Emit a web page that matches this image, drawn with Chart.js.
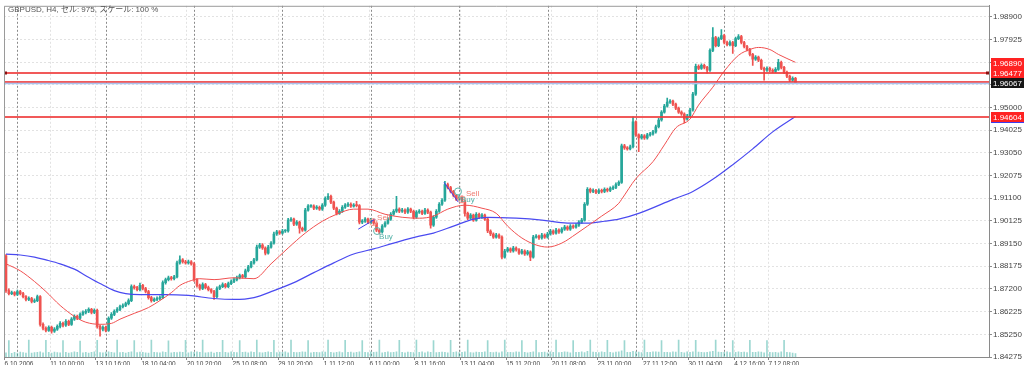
<!DOCTYPE html>
<html>
<head>
<meta charset="utf-8">
<script src="https://cdn.jsdelivr.net/npm/chart.js@4.4.1/dist/chart.umd.min.js"></script>
<style>
html, body { margin: 0; padding: 0; background: #fff; }
canvas { display: block; }
</style>
</head>
<body>
<canvas id="chart" width="1024" height="365"></canvas>
<script>
// GBPUSD H4, bar 0 = 6.10.2006 12:00
opens = [
1.8862, 1.8713, 1.8700, 1.8704, 1.8696, 1.8709, 1.8700, 1.8687, 1.8675, 1.8679,
1.8666, 1.8670, 1.8687, 1.8568, 1.8551, 1.8542, 1.8555, 1.8538, 1.8547, 1.8559,
1.8572, 1.8564, 1.8581, 1.8568, 1.8590, 1.8602, 1.8594, 1.8611, 1.8619, 1.8624,
1.8632, 1.8619, 1.8628, 1.8559, 1.8547, 1.8555, 1.8542, 1.8594, 1.8611, 1.8624,
1.8632, 1.8644, 1.8649, 1.8657, 1.8670, 1.8730, 1.8726, 1.8717, 1.8735, 1.8722,
1.8709, 1.8683, 1.8670, 1.8675, 1.8679, 1.8683, 1.8747, 1.8760, 1.8768, 1.8764,
1.8772, 1.8832, 1.8845, 1.8837, 1.8832, 1.8837, 1.8828, 1.8760, 1.8735, 1.8722,
1.8739, 1.8726, 1.8717, 1.8709, 1.8687, 1.8722, 1.8730, 1.8739, 1.8730, 1.8743,
1.8752, 1.8760, 1.8768, 1.8777, 1.8772, 1.8798, 1.8815, 1.8832, 1.8845, 1.8900,
1.8909, 1.8896, 1.8874, 1.8900, 1.8917, 1.8956, 1.8965, 1.8960, 1.8969, 1.8969,
1.9016, 1.9020, 1.8998, 1.9007, 1.8981, 1.8973, 1.9059, 1.9076, 1.9076, 1.9067,
1.9071, 1.9063, 1.9080, 1.9109, 1.9118, 1.9093, 1.9067, 1.9045, 1.9054, 1.9071,
1.9080, 1.9084, 1.9076, 1.9080, 1.9078, 1.9007, 1.9011, 1.9020, 1.9007, 1.9016,
1.9003, 1.8973, 1.8965, 1.8990, 1.9003, 1.9020, 1.9041, 1.9054, 1.9063, 1.9054,
1.9059, 1.9050, 1.9063, 1.9054, 1.9028, 1.9050, 1.9054, 1.9045, 1.9059, 1.9050,
1.8994, 1.9028, 1.9054, 1.9084, 1.9101, 1.9169, 1.9156, 1.9139, 1.9122, 1.9105,
1.9114, 1.9097, 1.9045, 1.9024, 1.9037, 1.9016, 1.9041, 1.9028, 1.9037, 1.9020,
1.8969, 1.8956, 1.8943, 1.8952, 1.8943, 1.8857, 1.8883, 1.8892, 1.8883, 1.8896,
1.8888, 1.8874, 1.8883, 1.8870, 1.8879, 1.8857, 1.8943, 1.8947, 1.8939, 1.8952,
1.8943, 1.8956, 1.8969, 1.8960, 1.8973, 1.8965, 1.8977, 1.8986, 1.8977, 1.8990,
1.8986, 1.8994, 1.9007, 1.9016, 1.9084, 1.9148, 1.9139, 1.9143, 1.9135, 1.9143,
1.9139, 1.9148, 1.9143, 1.9152, 1.9156, 1.9169, 1.9178, 1.9335, 1.9326, 1.9322,
1.9331, 1.9438, 1.9382, 1.9369, 1.9378, 1.9369, 1.9382, 1.9386, 1.9395, 1.9417,
1.9446, 1.9480, 1.9506, 1.9523, 1.9527, 1.9514, 1.9497, 1.9480, 1.9472, 1.9450,
1.9463, 1.9489, 1.9557, 1.9677, 1.9668, 1.9681, 1.9672, 1.9660, 1.9745, 1.9800,
1.9766, 1.9796, 1.9809, 1.9779, 1.9770, 1.9779, 1.9766, 1.9796, 1.9805, 1.9779,
1.9762, 1.9749, 1.9728, 1.9707, 1.9716, 1.9703, 1.9668, 1.9660, 1.9668, 1.9660,
1.9655, 1.9664, 1.9694, 1.9672, 1.9651, 1.9634, 1.9617, 1.9625
];

highs = [
1.8868, 1.8720, 1.8711, 1.8709, 1.8715, 1.8714, 1.8705, 1.8692, 1.8686, 1.8684,
1.8677, 1.8694, 1.8692, 1.8574, 1.8557, 1.8562, 1.8560, 1.8554, 1.8566, 1.8580,
1.8578, 1.8588, 1.8586, 1.8597, 1.8609, 1.8608, 1.8617, 1.8626, 1.8631, 1.8639,
1.8637, 1.8635, 1.8633, 1.8564, 1.8562, 1.8560, 1.8600, 1.8618, 1.8630, 1.8640,
1.8651, 1.8656, 1.8664, 1.8677, 1.8738, 1.8737, 1.8731, 1.8745, 1.8740, 1.8727,
1.8714, 1.8688, 1.8682, 1.8686, 1.8690, 1.8755, 1.8767, 1.8775, 1.8774, 1.8779,
1.8840, 1.8862, 1.8851, 1.8843, 1.8844, 1.8842, 1.8833, 1.8765, 1.8741, 1.8746,
1.8744, 1.8732, 1.8722, 1.8714, 1.8729, 1.8737, 1.8746, 1.8744, 1.8750, 1.8759,
1.8767, 1.8775, 1.8784, 1.8783, 1.8805, 1.8822, 1.8839, 1.8852, 1.8908, 1.8916,
1.8915, 1.8901, 1.8907, 1.8924, 1.8964, 1.8972, 1.8971, 1.8976, 1.8975, 1.9024,
1.9027, 1.9025, 1.9014, 1.9012, 1.8986, 1.9066, 1.9083, 1.9082, 1.9081, 1.9078,
1.9076, 1.9087, 1.9116, 1.9130, 1.9123, 1.9098, 1.9072, 1.9061, 1.9078, 1.9087,
1.9091, 1.9090, 1.9087, 1.9097, 1.9083, 1.9018, 1.9027, 1.9025, 1.9023, 1.9021,
1.9008, 1.8978, 1.8997, 1.9010, 1.9027, 1.9048, 1.9061, 1.9118, 1.9069, 1.9066,
1.9064, 1.9070, 1.9068, 1.9059, 1.9057, 1.9061, 1.9059, 1.9066, 1.9064, 1.9055,
1.9035, 1.9061, 1.9091, 1.9108, 1.9182, 1.9175, 1.9161, 1.9144, 1.9127, 1.9121,
1.9119, 1.9102, 1.9050, 1.9044, 1.9042, 1.9048, 1.9046, 1.9044, 1.9042, 1.9025,
1.8974, 1.8961, 1.8959, 1.8957, 1.8948, 1.8890, 1.8899, 1.8897, 1.8903, 1.8901,
1.8893, 1.8890, 1.8888, 1.8886, 1.8884, 1.8950, 1.8954, 1.8952, 1.8959, 1.8957,
1.8963, 1.8976, 1.8974, 1.8980, 1.8978, 1.8984, 1.8993, 1.8991, 1.8997, 1.8996,
1.9001, 1.9014, 1.9023, 1.9091, 1.9156, 1.9154, 1.9150, 1.9148, 1.9150, 1.9149,
1.9155, 1.9153, 1.9159, 1.9163, 1.9176, 1.9185, 1.9343, 1.9341, 1.9332, 1.9338,
1.9460, 1.9443, 1.9387, 1.9385, 1.9383, 1.9389, 1.9393, 1.9402, 1.9424, 1.9453,
1.9487, 1.9513, 1.9540, 1.9534, 1.9532, 1.9519, 1.9502, 1.9485, 1.9477, 1.9470,
1.9496, 1.9565, 1.9686, 1.9683, 1.9688, 1.9686, 1.9677, 1.9752, 1.9843, 1.9806,
1.9803, 1.9835, 1.9814, 1.9785, 1.9786, 1.9784, 1.9803, 1.9813, 1.9810, 1.9784,
1.9767, 1.9754, 1.9733, 1.9723, 1.9721, 1.9708, 1.9673, 1.9675, 1.9673, 1.9666,
1.9671, 1.9707, 1.9699, 1.9677, 1.9656, 1.9639, 1.9632, 1.9630
];

lows = [
1.8705, 1.8694, 1.8695, 1.8690, 1.8691, 1.8694, 1.8681, 1.8669, 1.8670, 1.8660,
1.8661, 1.8665, 1.8560, 1.8544, 1.8535, 1.8537, 1.8530, 1.8533, 1.8542, 1.8553,
1.8557, 1.8559, 1.8562, 1.8563, 1.8585, 1.8588, 1.8589, 1.8606, 1.8613, 1.8618,
1.8613, 1.8614, 1.8551, 1.8517, 1.8540, 1.8535, 1.8537, 1.8589, 1.8605, 1.8619,
1.8627, 1.8638, 1.8644, 1.8651, 1.8665, 1.8719, 1.8711, 1.8712, 1.8716, 1.8703,
1.8676, 1.8663, 1.8665, 1.8670, 1.8673, 1.8678, 1.8741, 1.8755, 1.8758, 1.8759,
1.8767, 1.8826, 1.8831, 1.8826, 1.8827, 1.8822, 1.8752, 1.8728, 1.8715, 1.8717,
1.8720, 1.8711, 1.8702, 1.8675, 1.8683, 1.8717, 1.8725, 1.8724, 1.8725, 1.8738,
1.8747, 1.8755, 1.8763, 1.8766, 1.8767, 1.8793, 1.8810, 1.8827, 1.8840, 1.8894,
1.8890, 1.8866, 1.8869, 1.8895, 1.8912, 1.8950, 1.8954, 1.8955, 1.8963, 1.8964,
1.9010, 1.8992, 1.8993, 1.8960, 1.8967, 1.8968, 1.9054, 1.9070, 1.9061, 1.9062,
1.9057, 1.9058, 1.9075, 1.9104, 1.9087, 1.9061, 1.9038, 1.9040, 1.9049, 1.9066,
1.9074, 1.9070, 1.9071, 1.9072, 1.8999, 1.9001, 1.9006, 1.9001, 1.9002, 1.8997,
1.8966, 1.8956, 1.8960, 1.8985, 1.8998, 1.9015, 1.9036, 1.9049, 1.9048, 1.9049,
1.9044, 1.9045, 1.9048, 1.9021, 1.9023, 1.9045, 1.9039, 1.9040, 1.9044, 1.8981,
1.8989, 1.9023, 1.9049, 1.9079, 1.9096, 1.9150, 1.9133, 1.9116, 1.9099, 1.9100,
1.9091, 1.9033, 1.9018, 1.9019, 1.9010, 1.9011, 1.9022, 1.9023, 1.9014, 1.8962,
1.8949, 1.8937, 1.8938, 1.8937, 1.8849, 1.8852, 1.8878, 1.8877, 1.8878, 1.8882,
1.8868, 1.8869, 1.8864, 1.8865, 1.8841, 1.8852, 1.8938, 1.8933, 1.8934, 1.8937,
1.8938, 1.8951, 1.8954, 1.8955, 1.8959, 1.8960, 1.8972, 1.8971, 1.8972, 1.8980,
1.8981, 1.8989, 1.9002, 1.9011, 1.9079, 1.9133, 1.9134, 1.9129, 1.9130, 1.9133,
1.9134, 1.9137, 1.9138, 1.9147, 1.9151, 1.9164, 1.9173, 1.9320, 1.9316, 1.9317,
1.9326, 1.9375, 1.9310, 1.9364, 1.9363, 1.9364, 1.9377, 1.9381, 1.9390, 1.9412,
1.9441, 1.9475, 1.9501, 1.9517, 1.9508, 1.9491, 1.9474, 1.9466, 1.9434, 1.9445,
1.9458, 1.9484, 1.9552, 1.9662, 1.9663, 1.9666, 1.9647, 1.9655, 1.9740, 1.9760,
1.9761, 1.9791, 1.9773, 1.9764, 1.9765, 1.9732, 1.9761, 1.9791, 1.9773, 1.9756,
1.9743, 1.9722, 1.9681, 1.9702, 1.9697, 1.9662, 1.9617, 1.9655, 1.9654, 1.9649,
1.9650, 1.9659, 1.9666, 1.9645, 1.9628, 1.9611, 1.9612, 1.9603
];

closes = [
1.8713, 1.8700, 1.8704, 1.8696, 1.8709, 1.8700, 1.8687, 1.8675, 1.8679, 1.8666,
1.8670, 1.8687, 1.8568, 1.8551, 1.8542, 1.8555, 1.8538, 1.8547, 1.8559, 1.8572,
1.8564, 1.8581, 1.8568, 1.8590, 1.8602, 1.8594, 1.8611, 1.8619, 1.8624, 1.8632,
1.8619, 1.8628, 1.8559, 1.8547, 1.8555, 1.8542, 1.8594, 1.8611, 1.8624, 1.8632,
1.8644, 1.8649, 1.8657, 1.8670, 1.8730, 1.8726, 1.8717, 1.8735, 1.8722, 1.8709,
1.8683, 1.8670, 1.8675, 1.8679, 1.8683, 1.8747, 1.8760, 1.8768, 1.8764, 1.8772,
1.8832, 1.8845, 1.8837, 1.8832, 1.8837, 1.8828, 1.8760, 1.8735, 1.8722, 1.8739,
1.8726, 1.8717, 1.8709, 1.8687, 1.8722, 1.8730, 1.8739, 1.8730, 1.8743, 1.8752,
1.8760, 1.8768, 1.8777, 1.8772, 1.8798, 1.8815, 1.8832, 1.8845, 1.8900, 1.8909,
1.8896, 1.8874, 1.8900, 1.8917, 1.8956, 1.8965, 1.8960, 1.8969, 1.8969, 1.9016,
1.9020, 1.8998, 1.9007, 1.8981, 1.8973, 1.9059, 1.9076, 1.9076, 1.9067, 1.9071,
1.9063, 1.9080, 1.9109, 1.9118, 1.9093, 1.9067, 1.9045, 1.9054, 1.9071, 1.9080,
1.9084, 1.9076, 1.9080, 1.9078, 1.9007, 1.9011, 1.9020, 1.9007, 1.9016, 1.9003,
1.8973, 1.8965, 1.8990, 1.9003, 1.9020, 1.9041, 1.9054, 1.9063, 1.9054, 1.9059,
1.9050, 1.9063, 1.9054, 1.9028, 1.9050, 1.9054, 1.9045, 1.9059, 1.9050, 1.8994,
1.9028, 1.9054, 1.9084, 1.9101, 1.9169, 1.9156, 1.9139, 1.9122, 1.9105, 1.9114,
1.9097, 1.9045, 1.9024, 1.9037, 1.9016, 1.9041, 1.9028, 1.9037, 1.9020, 1.8969,
1.8956, 1.8943, 1.8952, 1.8943, 1.8857, 1.8883, 1.8892, 1.8883, 1.8896, 1.8888,
1.8874, 1.8883, 1.8870, 1.8879, 1.8857, 1.8943, 1.8947, 1.8939, 1.8952, 1.8943,
1.8956, 1.8969, 1.8960, 1.8973, 1.8965, 1.8977, 1.8986, 1.8977, 1.8990, 1.8986,
1.8994, 1.9007, 1.9016, 1.9084, 1.9148, 1.9139, 1.9143, 1.9135, 1.9143, 1.9139,
1.9148, 1.9143, 1.9152, 1.9156, 1.9169, 1.9178, 1.9335, 1.9326, 1.9322, 1.9331,
1.9438, 1.9382, 1.9369, 1.9378, 1.9369, 1.9382, 1.9386, 1.9395, 1.9417, 1.9446,
1.9480, 1.9506, 1.9523, 1.9527, 1.9514, 1.9497, 1.9480, 1.9472, 1.9450, 1.9463,
1.9489, 1.9557, 1.9677, 1.9668, 1.9681, 1.9672, 1.9660, 1.9745, 1.9800, 1.9766,
1.9796, 1.9809, 1.9779, 1.9770, 1.9779, 1.9766, 1.9796, 1.9805, 1.9779, 1.9762,
1.9749, 1.9728, 1.9707, 1.9716, 1.9703, 1.9668, 1.9660, 1.9668, 1.9660, 1.9655,
1.9664, 1.9694, 1.9672, 1.9651, 1.9634, 1.9617, 1.9625, 1.9607
];

volumes = [
240, 930, 210, 260, 230, 280, 250, 220, 960, 230,
250, 270, 300, 240, 950, 260, 230, 280, 250, 240,
940, 260, 220, 250, 290, 270, 900, 240, 260, 230,
270, 300, 950, 250, 240, 280, 300, 260, 240, 960,
250, 270, 230, 260, 290, 940, 250, 280, 260, 240,
230, 960, 270, 250, 240, 300, 260, 920, 240, 270,
250, 280, 260, 950, 240, 290, 270, 300, 260, 960,
240, 250, 280, 230, 260, 270, 950, 260, 240, 290,
270, 250, 940, 260, 280, 240, 300, 270, 960, 250,
240, 260, 290, 270, 950, 250, 280, 260, 300, 240,
960, 270, 250, 260, 300, 280, 930, 240, 270, 260,
250, 290, 280, 960, 260, 240, 270, 300, 250, 950,
260, 280, 240, 270, 290, 940, 260, 250, 300, 270,
280, 960, 240, 260, 290, 250, 270, 300, 950, 260,
240, 280, 270, 250, 960, 260, 290, 240, 300, 270,
940, 250, 260, 280, 270, 240, 950, 260, 290, 250,
270, 300, 960, 250, 240, 280, 260, 270, 290, 940,
260, 250, 280, 240, 300, 960, 270, 260, 250, 290,
280, 930, 260, 240, 270, 300, 950, 250, 260, 280,
240, 290, 270, 960, 250, 260, 300, 280, 240, 940,
260, 270, 290, 250, 330, 960, 280, 260, 250, 300,
270, 950, 260, 240, 280, 290, 350, 930, 270, 260,
320, 300, 280, 250, 960, 270, 260, 290, 300, 280,
940, 260, 270, 250, 300, 280, 960, 260, 240, 290,
270, 300, 950, 280, 260, 250, 270, 300, 320, 960,
280, 270, 260, 290, 250, 940, 270, 300, 260, 280,
250, 950, 270, 260, 300, 280, 240, 930, 260, 250,
270, 240, 290, 950, 260, 250, 230, 200
];

// moving averages, read at sample bars
redBars = [0, 5, 10, 14, 19, 24, 28, 33, 37, 40, 45, 50, 54, 58, 61, 65, 68, 73, 80, 87,
  93, 99, 105, 111, 116, 122, 127, 133, 139, 145, 150, 155, 161, 167, 172, 176, 181, 186, 190, 195,
  200, 204, 209, 215, 216, 221, 227, 231, 235, 240, 243, 248, 252, 257, 261, 264, 268, 271, 277];
redMA = [1.8828, 1.8798, 1.8752, 1.8709, 1.8649, 1.8602, 1.8577, 1.8568, 1.8572, 1.8590,
  1.8615, 1.8640, 1.8670, 1.8704, 1.8735, 1.8756, 1.8764, 1.8760, 1.8768, 1.8764,
  1.8828, 1.8896, 1.8960, 1.9011, 1.9041, 1.9063, 1.9063, 1.9041, 1.9028, 1.9024,
  1.9033, 1.9063, 1.9080, 1.9067, 1.9045, 1.8990, 1.8939, 1.8909, 1.8900, 1.8917,
  1.8956, 1.8990, 1.9033, 1.9088, 1.9105, 1.9194, 1.9267, 1.9339, 1.9412, 1.9450,
  1.9510, 1.9587, 1.9656, 1.9724, 1.9749, 1.9758, 1.9749, 1.9728, 1.9694];

blueBars = [0, 5, 10, 14, 19, 24, 28, 33, 38, 42, 47, 56, 64, 73, 80, 87, 94, 101, 108, 115,
  122, 129, 136, 145, 150, 157, 164, 169, 179, 188, 197, 204, 210, 215, 222, 234, 241, 248, 255, 262,
  269, 277];
blueMA = [1.8870, 1.8866, 1.8857, 1.8845, 1.8828, 1.8805, 1.8777, 1.8743, 1.8713, 1.8700,
  1.8696, 1.8696, 1.8692, 1.8679, 1.8675, 1.8683, 1.8713, 1.8747, 1.8790, 1.8832,
  1.8870, 1.8892, 1.8917, 1.8947, 1.8960, 1.8990, 1.9020, 1.9028, 1.9024, 1.9016,
  1.9003, 1.9003, 1.9011, 1.9020, 1.9045, 1.9105, 1.9139, 1.9191, 1.9254, 1.9322,
  1.9395, 1.9461];

priceTicks = [1.98900, 1.97925, 1.96950, 1.95975, 1.95000, 1.94025, 1.93050, 1.92075,
  1.91100, 1.90125, 1.89150, 1.88175, 1.87200, 1.86225, 1.85250, 1.84275];
// the reference skips two of them next to the price tags
hiddenTicks = [1.96950, 1.95975];

timeBars = [0, 16, 32, 48, 64, 80, 96, 112, 128, 144, 160, 176, 192, 208, 224, 240, 256, 268];
timeLabels = ['6.10.2006', '11.10 00:00', '13.10 16:00', '18.10 04:00', '20.10 20:00', '25.10 08:00',
  '29.10 20:00', '1.11 12:00', '6.11 00:00', '8.11 16:00', '13.11 04:00', '15.11 20:00',
  '20.11 08:00', '23.11 00:00', '27.11 12:00', '30.11 04:00', '4.12 16:00', '7.12 08:00'];

weekStarts = [4, 35, 66, 97, 128, 159, 190, 221, 252];

levelPrices = [1.96477, 1.96100, 1.94604];
bidPrice = 1.96067;
tagPrices = [1.96890, 1.96477, 1.96067, 1.94604];

tradeLines = [[123.6, 1.8977, 129.5, 1.9020], [153.7, 1.9178, 158.7, 1.9093]];
sellMarks = [[130.2, 1.9024], [161.4, 1.9131]];
buyMarks = [[130.9, 1.8943], [159.6, 1.9101]];
openCircles = [[130.2, 1.8969], [158.6, 1.9139]];
closeCircles = [[128.8, 1.9007], [160.0, 1.9105]];

titleText = 'GBPUSD, H4, セル: 975, スケール: 100 %';

upColor = '#26a69a';
downColor = '#ef5350';
fontFamily = '"Liberation Sans", Arial, "Noto Sans CJK JP", sans-serif';
Chart.defaults.font.family = fontFamily;

candleColors = closes.map((c, i) => c >= opens[i] ? upColor : downColor);

overlay = {
  id: 'overlay',
  beforeDatasetsDraw(chart) {
    const {ctx, chartArea: a, scales: {x}} = chart;
    ctx.save();
    ctx.strokeStyle = '#8a8a8a';
    ctx.lineWidth = 1;
    ctx.setLineDash([2, 2]);
    weekStarts.forEach(b => {
      const px = Math.round(x.getPixelForValue(b)) + 0.5;
      ctx.beginPath();
      ctx.moveTo(px, a.top);
      ctx.lineTo(px, a.bottom);
      ctx.stroke();
    });
    ctx.restore();
  },
  afterDatasetsDraw(chart) {
    const {ctx, chartArea: a, scales: {x, y}} = chart;
    ctx.save();
    // horizontal levels
    ctx.lineWidth = 2;
    ctx.strokeStyle = 'rgba(238,60,60,0.85)';
    levelPrices.forEach(p => {
      const py = Math.round(y.getPixelForValue(p));
      ctx.beginPath();
      ctx.moveTo(a.left, py);
      ctx.lineTo(a.right, py);
      ctx.stroke();
    });
    ctx.strokeStyle = '#a9c3ef';
    ctx.lineWidth = 1.5;
    const by = Math.round(y.getPixelForValue(bidPrice)) + 0.5;
    ctx.beginPath();
    ctx.moveTo(a.left, by);
    ctx.lineTo(a.right, by);
    ctx.stroke();
    // end markers on first level
    const my = Math.round(y.getPixelForValue(levelPrices[0]));
    ctx.fillStyle = '#8a1010';
    ctx.fillRect(a.left, my - 1.5, 3, 3);
    ctx.fillRect(a.right - 3, my - 1.5, 3, 3);

    // trade lines
    ctx.strokeStyle = '#3c3cf0';
    ctx.lineWidth = 1;
    tradeLines.forEach(t => {
      ctx.beginPath();
      ctx.moveTo(x.getPixelForValue(t[0]), y.getPixelForValue(t[1]));
      ctx.lineTo(x.getPixelForValue(t[2]), y.getPixelForValue(t[3]));
      ctx.stroke();
    });
    ctx.strokeStyle = '#f29a90';
    closeCircles.forEach(c => {
      ctx.beginPath();
      ctx.arc(x.getPixelForValue(c[0]), y.getPixelForValue(c[1]), 3.5, 0, Math.PI * 2);
      ctx.stroke();
    });
    ctx.strokeStyle = '#5db5ab';
    openCircles.forEach(c => {
      ctx.beginPath();
      ctx.arc(x.getPixelForValue(c[0]), y.getPixelForValue(c[1]), 3.5, 0, Math.PI * 2);
      ctx.stroke();
    });
    ctx.font = '8px ' + fontFamily;
    ctx.textBaseline = 'middle';
    ctx.textAlign = 'left';
    ctx.fillStyle = '#f07a70';
    sellMarks.forEach(m => ctx.fillText('Sell', x.getPixelForValue(m[0]), y.getPixelForValue(m[1])));
    ctx.fillStyle = '#4fb0a6';
    buyMarks.forEach(m => ctx.fillText('Buy', x.getPixelForValue(m[0]), y.getPixelForValue(m[1])));
    ctx.restore();
  },
  afterDraw(chart) {
    const {ctx, chartArea: a, scales: {y}} = chart;
    ctx.save();
    // frame left/top
    ctx.strokeStyle = '#9a9a9a';
    ctx.lineWidth = 1;
    ctx.beginPath();
    ctx.moveTo(a.left + 0.5, a.bottom);
    ctx.lineTo(a.left + 0.5, a.top + 0.5);
    ctx.lineTo(a.right, a.top + 0.5);
    ctx.stroke();

    ctx.font = '8px ' + fontFamily;
    ctx.fillStyle = '#555';
    ctx.textBaseline = 'middle';
    ctx.textAlign = 'left';
    ctx.fillText(titleText, a.left + 4, 10);

    // price tags on the right scale
    tagPrices.forEach((p, k) => {
      const py = Math.round(y.getPixelForValue(p));
      ctx.fillStyle = k === 2 ? '#161616' : '#ff2222';
      ctx.fillRect(a.right + 2, py - 5, 40, 10);
      ctx.fillStyle = '#fff';
      ctx.fillText(p.toFixed(5), a.right + 4, py + 0.5);
    });
    const ly = Math.round(y.getPixelForValue(tagPrices[3])) + 5.5;
    ctx.strokeStyle = '#3c3cf0';
    ctx.beginPath();
    ctx.moveTo(a.right + 2, ly);
    ctx.lineTo(chart.width, ly);
    ctx.stroke();
    ctx.restore();
  }
};

new Chart(document.getElementById('chart'), {
  type: 'bar',
  data: {
    datasets: [
      {
        label: 'body',
        data: closes.map((c, i) => ({x: i, y: [opens[i], c]})),
        backgroundColor: candleColors,
        barThickness: 2,
        minBarLength: 1,
        grouped: false,
        order: 3
      },
      {
        label: 'wick',
        data: highs.map((h, i) => ({x: i, y: [lows[i], h]})),
        backgroundColor: candleColors,
        barThickness: 1,
        grouped: false,
        order: 4
      },
      {
        label: 'volume',
        data: volumes.map((v, i) => ({x: i, y: v})),
        backgroundColor: 'rgba(38,166,154,0.45)',
        barThickness: 1,
        grouped: false,
        yAxisID: 'yv',
        order: 6
      },
      {
        type: 'line',
        label: 'MA red',
        data: redBars.map((b, k) => ({x: b, y: redMA[k]})),
        borderColor: '#f05050',
        borderWidth: 1,
        pointRadius: 0,
        cubicInterpolationMode: 'monotone',
        order: 1
      },
      {
        type: 'line',
        label: 'MA blue',
        data: blueBars.map((b, k) => ({x: b, y: blueMA[k]})),
        borderColor: '#4a4af0',
        borderWidth: 1.2,
        pointRadius: 0,
        cubicInterpolationMode: 'monotone',
        order: 2
      }
    ]
  },
  options: {
    responsive: false,
    animation: false,
    layout: {padding: {left: 4, top: 3, right: 0, bottom: 0}},
    plugins: {legend: {display: false}, tooltip: {enabled: false}},
    scales: {
      x: {
        type: 'linear',
        min: -0.7,
        max: 344.9,
        offset: false,
        afterBuildTicks: s => { s.ticks = timeBars.map(b => ({value: b - 0.5})); },
        afterFit: s => { s.height = 8; },
        ticks: {
          autoSkip: false, maxRotation: 0, minRotation: 0, align: 'start', padding: 0,
          color: '#444', font: {size: 6.5},
          callback: (v, i) => timeLabels[i]
        },
        grid: {color: '#e2e2e2', offset: false, tickLength: 3, tickColor: '#8a8a8a', tickBorderDash: []},
        border: {display: true, color: '#8a8a8a', dash: [2, 2]}
      },
      y: {
        type: 'linear',
        position: 'right',
        min: 1.84275,
        max: 1.99369,
        afterBuildTicks: s => { s.ticks = priceTicks.map(v => ({value: v})); },
        afterFit: s => { s.width = 35; },
        ticks: {
          autoSkip: false, padding: 1, color: '#444', font: {size: 8},
          callback: v => hiddenTicks.includes(v) ? '' : v.toFixed(5)
        },
        grid: {color: '#e2e2e2', tickLength: 3, tickColor: '#8a8a8a', tickBorderDash: []},
        border: {display: true, color: '#8a8a8a', dash: [2, 2]}
      },
      yv: {type: 'linear', display: false, min: 0, max: 20000}
    }
  },
  plugins: [overlay]
});
</script>
</body>
</html>
